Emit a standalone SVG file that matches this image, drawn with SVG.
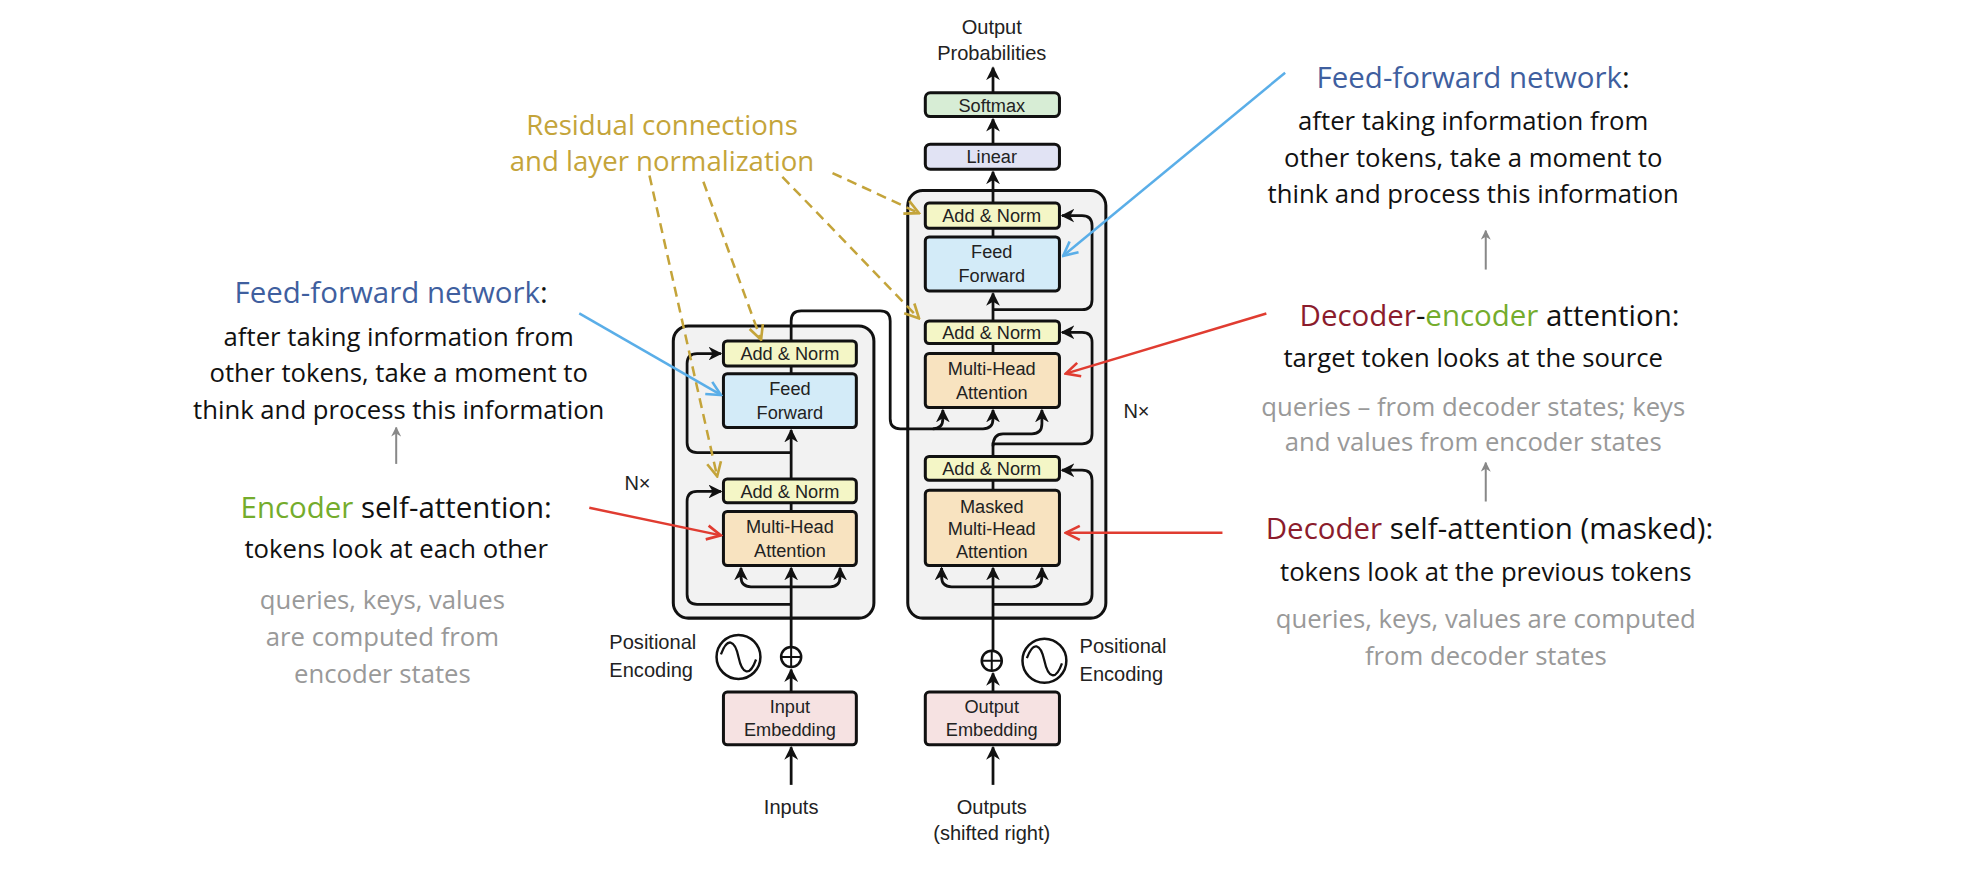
<svg xmlns="http://www.w3.org/2000/svg" width="1966" height="888" viewBox="0 0 1966 888">
<style>
.outer{fill:#f2f2f2;stroke:#111;stroke-width:2.4}
.b{stroke:#111;stroke-width:2.4}
.an{fill:#f4f6c6}.ff{fill:#d3ebf8}.mh{fill:#f8e3c0}.em{fill:#f6e2e2}.li{fill:#e1e3f4}.sm{fill:#d7edd5}
.lb{font-family:"Liberation Sans",Arial,sans-serif;font-size:14.5px;fill:#222;text-anchor:middle}
.lb2{font-family:"Liberation Sans",Arial,sans-serif;font-size:16px;fill:#222}
.c{fill:none;stroke:#111;stroke-width:2.2}
.h{font-family:"Open Sans",sans-serif;font-size:23.5px;text-anchor:middle;fill:#111}
.t{font-family:"Open Sans",sans-serif;font-size:20.5px;text-anchor:middle;fill:#111}
.g{font-family:"Open Sans",sans-serif;font-size:20.5px;text-anchor:middle;fill:#999}
.ol{font-family:"Open Sans",sans-serif;font-size:22px;text-anchor:middle;fill:#c4a43a}
.blue{fill:#3f5f9f}.dred{fill:#8b1c2c}.green{fill:#74ac2c}
.dash{fill:none;stroke:#c4a43a;stroke-width:2;stroke-dasharray:8 5}
</style>
<defs>
<marker id="ah" viewBox="0 0 10 10" refX="9" refY="5" markerWidth="5" markerHeight="5" orient="auto"><path d="M0,0 L10,5 L0,10 L3,5 z" fill="#111"/></marker>
<marker id="ab" viewBox="0 0 10 10" refX="9" refY="5" markerWidth="7" markerHeight="7" orient="auto"><path d="M1,1 L9,5 L1,9" fill="none" stroke="#5aaee8" stroke-width="1.5"/></marker>
<marker id="ar" viewBox="0 0 10 10" refX="9" refY="5" markerWidth="7" markerHeight="7" orient="auto"><path d="M1,1 L9,5 L1,9" fill="none" stroke="#e03c31" stroke-width="1.5"/></marker>
<marker id="ao" viewBox="0 0 10 10" refX="9" refY="5" markerWidth="7" markerHeight="7" orient="auto"><path d="M1,1 L9,5 L1,9" fill="none" stroke="#c4a43a" stroke-width="1.5"/></marker>
<marker id="ag" viewBox="0 0 10 10" refX="9" refY="5" markerWidth="5" markerHeight="5" orient="auto"><path d="M0,0 L10,5 L0,10 L3,5 z" fill="#888"/></marker>
</defs>
<rect width="1966" height="888" fill="#fff"/>
<g transform="scale(1.2538)">
<g id="encoder">
<rect class="outer" x="537" y="260" width="160" height="233" rx="12"/>
<g id="enc-addnorm2"><rect class="b an" x="577" y="272" width="106" height="20" rx="3"/><text class="lb" x="630" y="287">Add &amp; Norm</text></g>
<g id="enc-ff"><rect class="b ff" x="577" y="298" width="106" height="43" rx="3"/><text class="lb" x="630" y="315">Feed</text><text class="lb" x="630" y="334">Forward</text></g>
<g id="enc-addnorm1"><rect class="b an" x="577" y="382" width="106" height="19" rx="3"/><text class="lb" x="630" y="397">Add &amp; Norm</text></g>
<g id="enc-mha"><rect class="b mh" x="577" y="408" width="106" height="43" rx="3"/><text class="lb" x="630" y="425">Multi-Head</text><text class="lb" x="630" y="444">Attention</text></g>
<text class="lb2" x="498" y="391">N×</text>
</g>
<g id="decoder">
<rect class="outer" x="724" y="152" width="158" height="341" rx="12"/>
<g id="dec-addnorm3"><rect class="b an" x="738" y="162" width="107" height="20" rx="3"/><text class="lb" x="791" y="177">Add &amp; Norm</text></g>
<g id="dec-ff"><rect class="b ff" x="738" y="189" width="107" height="43" rx="3"/><text class="lb" x="791" y="206">Feed</text><text class="lb" x="791" y="225">Forward</text></g>
<g id="dec-addnorm2"><rect class="b an" x="738" y="256" width="107" height="18" rx="3"/><text class="lb" x="791" y="270">Add &amp; Norm</text></g>
<g id="dec-mha"><rect class="b mh" x="738" y="282" width="107" height="43" rx="3"/><text class="lb" x="791" y="299">Multi-Head</text><text class="lb" x="791" y="318">Attention</text></g>
<g id="dec-addnorm1"><rect class="b an" x="738" y="364" width="107" height="19" rx="3"/><text class="lb" x="791" y="379">Add &amp; Norm</text></g>
<g id="dec-mmha"><rect class="b mh" x="738" y="391" width="107" height="60" rx="3"/><text class="lb" x="791" y="409">Masked</text><text class="lb" x="791" y="427">Multi-Head</text><text class="lb" x="791" y="445">Attention</text></g>
<text class="lb2" x="896" y="333">N×</text>
</g>
<g id="linear"><rect class="b li" x="738" y="115" width="107" height="20" rx="4"/><text class="lb" x="791" y="130">Linear</text></g>
<g id="softmax"><rect class="b sm" x="738" y="74" width="107" height="19" rx="4"/><text class="lb" x="791" y="89">Softmax</text></g>
<g id="output-probs"><text class="lb2" x="791" y="27" text-anchor="middle">Output</text><text class="lb2" x="791" y="48" text-anchor="middle">Probabilities</text></g>
<g id="input-emb"><rect class="b em" x="577" y="552" width="106" height="42" rx="3"/><text class="lb" x="630" y="569">Input</text><text class="lb" x="630" y="587">Embedding</text></g>
<g id="output-emb"><rect class="b em" x="738" y="552" width="107" height="42" rx="3"/><text class="lb" x="791" y="569">Output</text><text class="lb" x="791" y="587">Embedding</text></g>
<g id="pos-enc-left">
<circle cx="589" cy="524" r="17.5" fill="#fff" stroke="#111" stroke-width="2"/>
<path d="M575,522 C580,508 586,510 589,524 C592,538 598,540 603,526" fill="none" stroke="#111" stroke-width="1.8"/>
<circle cx="631" cy="524" r="8" fill="#fff" stroke="#111" stroke-width="2"/>
<path d="M623,524 H639 M631,516 V532" stroke="#111" stroke-width="1.6"/>
<text class="lb2" x="486" y="518">Positional</text><text class="lb2" x="486" y="540">Encoding</text>
</g>
<g id="pos-enc-right">
<circle cx="833" cy="527" r="17.5" fill="#fff" stroke="#111" stroke-width="2"/>
<path d="M819,525 C824,511 830,513 833,527 C836,541 842,543 847,529" fill="none" stroke="#111" stroke-width="1.8"/>
<circle cx="791" cy="527" r="8" fill="#fff" stroke="#111" stroke-width="2"/>
<path d="M783,527 H799 M791,519 V535" stroke="#111" stroke-width="1.6"/>
<text class="lb2" x="861" y="521">Positional</text><text class="lb2" x="861" y="543">Encoding</text>
</g>
<text class="lb2" x="631" y="649" text-anchor="middle">Inputs</text>
<text class="lb2" x="791" y="649" text-anchor="middle">Outputs</text>
<text class="lb2" x="791" y="670" text-anchor="middle">(shifted right)</text>
<g id="connectors">
<path class="c" d="M631,626 V596" marker-end="url(#ah)"/>
<path class="c" d="M631,552 V534" marker-end="url(#ah)"/>
<path class="c" d="M631,516 V453" marker-end="url(#ah)"/>
<path class="c" d="M631,468 H599 Q591,468 591,460 V453" marker-end="url(#ah)"/>
<path class="c" d="M631,468 H662 Q670,468 670,460 V453" marker-end="url(#ah)"/>
<path class="c" d="M631,482 H556 Q548,482 548,474 V400 Q548,392 556,392 H575" marker-end="url(#ah)"/>
<path class="c" d="M631,408 V401"/>
<path class="c" d="M631,382 V343" marker-end="url(#ah)"/>
<path class="c" d="M631,361 H556 Q548,361 548,353 V290 Q548,282 556,282 H575" marker-end="url(#ah)"/>
<path class="c" d="M631,298 V292"/>
<path class="c" d="M631,272 V256 Q631,248 639,248 H702 Q710,248 710,256 V334 Q710,342 718,342 H744 Q752,342 752,334 V327" marker-end="url(#ah)"/>
<path class="c" d="M744,342 H784 Q792,342 792,334 V327" marker-end="url(#ah)"/>
<path class="c" d="M792,626 V596" marker-end="url(#ah)"/>
<path class="c" d="M792,552 V537" marker-end="url(#ah)"/>
<path class="c" d="M792,519 V453" marker-end="url(#ah)"/>
<path class="c" d="M792,468 H759 Q751,468 751,460 V453" marker-end="url(#ah)"/>
<path class="c" d="M792,468 H823 Q831,468 831,460 V453" marker-end="url(#ah)"/>
<path class="c" d="M792,482 H863 Q871,482 871,474 V383 Q871,375 863,375 H847" marker-end="url(#ah)"/>
<path class="c" d="M792,391 V383"/>
<path class="c" d="M792,364 V354 H863 Q871,354 871,346 V273 Q871,265 863,265 H847" marker-end="url(#ah)"/>
<path class="c" d="M792,356 Q792,346 800,346 H823 Q831,346 831,338 V327" marker-end="url(#ah)"/>
<path class="c" d="M792,282 V274"/>
<path class="c" d="M792,256 V234" marker-end="url(#ah)"/>
<path class="c" d="M792,247 H863 Q871,247 871,239 V180 Q871,172 863,172 H847" marker-end="url(#ah)"/>
<path class="c" d="M792,189 V182"/>
<path class="c" d="M792,162 V137" marker-end="url(#ah)"/>
<path class="c" d="M792,115 V95" marker-end="url(#ah)"/>
<path class="c" d="M792,74 V54" marker-end="url(#ah)"/>
</g>
<g id="annotation-arrows">
<path d="M518,140 L572,380" class="dash" marker-end="url(#ao)"/>
<path d="M561,145 L607,271" class="dash" marker-end="url(#ao)"/>
<path d="M624,141 L733,254" class="dash" marker-end="url(#ao)"/>
<path d="M664,138 L733,170" class="dash" marker-end="url(#ao)"/>
<path d="M1025,58 L848,204" fill="none" stroke="#5aaee8" stroke-width="2" marker-end="url(#ab)"/>
<path d="M462,250 L575,315" fill="none" stroke="#5aaee8" stroke-width="2" marker-end="url(#ab)"/>
<path d="M470,405 L575,427" fill="none" stroke="#e03c31" stroke-width="2" marker-end="url(#ar)"/>
<path d="M1010,250 L850,298" fill="none" stroke="#e03c31" stroke-width="2" marker-end="url(#ar)"/>
<path d="M975,425 L850,425" fill="none" stroke="#e03c31" stroke-width="2" marker-end="url(#ar)"/>
<path d="M1185,215 V184" stroke="#888" stroke-width="1.6" marker-end="url(#ag)"/>
<path d="M1185,400 V369" stroke="#888" stroke-width="1.6" marker-end="url(#ag)"/>
<path d="M316,370 V341" stroke="#888" stroke-width="1.6" marker-end="url(#ag)"/>
</g>
<g id="annotations">
<text class="ol" x="528" y="108">Residual connections</text>
<text class="ol" x="528" y="136">and layer normalization</text>
<text class="h" x="1175" y="70"><tspan class="blue">Feed-forward network</tspan>:</text>
<text class="t" x="1175" y="104">after taking information from</text>
<text class="t" x="1175" y="133">other tokens, take a moment to</text>
<text class="t" x="1175" y="162">think and process this information</text>
<text class="h" x="1188" y="260"><tspan class="dred">Decoder</tspan>-<tspan class="green">encoder</tspan> attention:</text>
<text class="t" x="1175" y="293">target token looks at the source</text>
<text class="g" x="1175" y="332">queries – from decoder states; keys</text>
<text class="g" x="1175" y="360">and values from encoder states</text>
<text class="h" x="1188" y="430"><tspan class="dred">Decoder</tspan> self-attention (masked):</text>
<text class="t" x="1185" y="463">tokens look at the previous tokens</text>
<text class="g" x="1185" y="501">queries, keys, values are computed</text>
<text class="g" x="1185" y="530">from decoder states</text>
<text class="h" x="312" y="242"><tspan class="blue">Feed-forward network</tspan>:</text>
<text class="t" x="318" y="276">after taking information from</text>
<text class="t" x="318" y="305">other tokens, take a moment to</text>
<text class="t" x="318" y="334">think and process this information</text>
<text class="h" x="316" y="413"><tspan class="green">Encoder</tspan> self-attention:</text>
<text class="t" x="316" y="445">tokens look at each other</text>
<text class="g" x="305" y="486">queries, keys, values</text>
<text class="g" x="305" y="515">are computed from</text>
<text class="g" x="305" y="545">encoder states</text>
</g>
</g>
</svg>
